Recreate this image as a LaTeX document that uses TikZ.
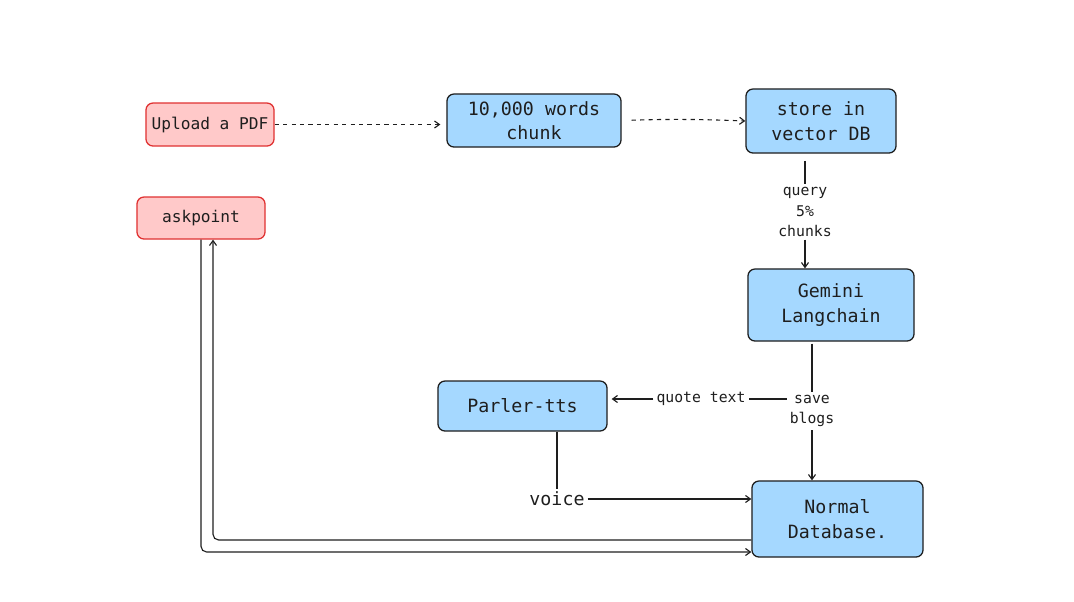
\documentclass[tikz,border=0pt]{standalone}
\usepackage{fontspec}
\setmainfont{DejaVu Sans Mono}
\usepackage{tikz}
\usetikzlibrary{positioning,shapes,arrows.meta}
\definecolor{boxblue}{HTML}{A5D8FF}
\definecolor{boxred}{HTML}{FFC9C9}
\definecolor{linered}{HTML}{E03131}
\definecolor{ink}{HTML}{1E1E1E}

\begin{document}
\begin{tikzpicture}[x=0.025cm, y=-0.025cm, >={Straight Barb[length=3.5pt, width=5pt]},
      box/.style={draw=ink, line width=0.9pt, rounded corners=5pt, align=center,
                  inner sep=0pt, font=\fontsize{13}{17.5}\selectfont, text=ink},
      blue/.style={box, fill=boxblue},
      red/.style={box, fill=boxred, draw=linered, font=\fontsize{11.5}{15}\selectfont},
      lbl/.style={align=center, inner sep=2pt, text=ink, font=\fontsize{10.5}{14.5}\selectfont},
      link/.style={draw=ink, line width=0.8pt}]
      \useasboundingbox (0, 0) rectangle (1074, 601);
      \node (up) [red, minimum width=3.2cm, minimum height=1.075cm] at (210, 124.5) {Upload a PDF};
      \node (ask) [red, minimum width=3.2cm, minimum height=1.05cm] at (201, 218) {askpoint};
      \node (chunk) [blue, minimum width=4.35cm, minimum height=1.325cm] at (534, 120.5) {10,000 words\\chunk};
      \node (store) [blue, minimum width=3.75cm, minimum height=1.6cm] at (821, 121) {store in\\vector DB};
      \node (gem) [blue, minimum width=4.15cm, minimum height=1.8cm] at (831, 305) {Gemini\\Langchain};
      \node (par) [blue, minimum width=4.225cm, minimum height=1.25cm] at (522.5, 406) {Parler-tts};
      \node (norm) [blue, minimum width=4.275cm, minimum height=1.9cm] at (837.5, 519) {Normal\\Database.};
      \node (qry) [lbl] at (805, 212) {query\\5\%\\chunks};
      \node (save) [lbl] at (812, 411) {save\\blogs};
      \node (qt) [lbl] at (701, 399) {quote text};
      \node (vc) [lbl, font=\fontsize{13}{17.5}\selectfont] at (557, 499) {voice};
      \draw[link, dashed, ->, shorten >=0.15cm] (up) -- (up -| chunk.west);
      \draw[link, dashed, ->, shorten <=0.25cm] (chunk.east) to [bend left=2] (store.west);
      \draw[link, shorten <=0.18cm] (store.south -| qry) -- (qry);
      \draw[link, ->] (qry) -- (qry |- gem.north);
      \draw[link, shorten <=0.05cm] (gem.south -| save) -- (save);
      \draw[link, ->] (save) -- (save |- norm.north);
      \draw[link] (save.west |- qt) -- (qt);
      \draw[link, ->, shorten >=0.1cm] (qt) -- (qt -| par.east);
      \draw[link] (par.south -| vc) -- (vc);
      \draw[link, ->] (vc) -- (vc -| norm.west);
      \draw[link, ->, rounded corners=4pt] ([yshift=-0.525cm]norm.west) -| ([xshift=0.3cm]ask.south);
      \draw[link, ->, rounded corners=4pt] (ask.south) |- ([yshift=-0.825cm]norm.west);
\end{tikzpicture}
\end{document}
